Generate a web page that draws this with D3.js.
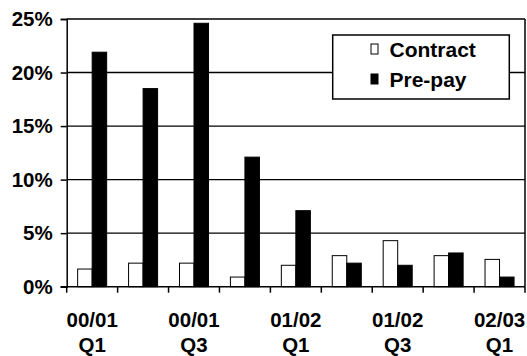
<!DOCTYPE html>
<html><head><meta charset="utf-8">
<script src="https://cdn.jsdelivr.net/npm/d3@7"></script>
<style>
html,body{margin:0;padding:0;background:#fff;}
text{font-family:"Liberation Sans",Arial,sans-serif;font-weight:bold;fill:#000;}
</style></head>
<body><svg id="c" width="527" height="356"></svg>
<script>
const categories = ["00/01 Q1","00/01 Q2","00/01 Q3","00/01 Q4","01/02 Q1","01/02 Q2","01/02 Q3","01/02 Q4","02/03 Q1"];
const tickLabels = [["00/01","Q1"],null,["00/01","Q3"],null,["01/02","Q1"],null,["01/02","Q3"],null,["02/03","Q1"]];
const seriesNames = ["Contract","Pre-pay"];
const contract = [1.65, 2.2, 2.2, 0.9, 2.0, 2.9, 4.3, 2.9, 2.55];
const prepay = [21.9, 18.5, 24.6, 12.1, 7.1, 2.2, 2.0, 3.15, 0.9];
const yTicks = [0,5,10,15,20,25];

const svg = d3.select("#c");
const L = 66.7, R = 525, T = 19, B = 286.7;
const x0 = d3.scaleBand().domain(categories).range([L,R]).padding(0);
const bw = x0.bandwidth();
const x1 = d3.scaleBand().domain(seriesNames).range([bw*0.215, bw*0.785]).padding(0);
const y = d3.scaleLinear().domain([0,25]).range([B,T]);

// gridlines
svg.append("g").selectAll("line").data(yTicks.filter(d=>d>0)).join("line")
  .attr("x1",L).attr("x2",R).attr("y1",d=>y(d)).attr("y2",d=>y(d))
  .attr("stroke","#000").attr("stroke-width",1.4);

// bars
const fills = {"Contract":"#fff","Pre-pay":"#000"};
const data = categories.map((c,i)=>({c, vals:[{s:"Contract",v:contract[i]},{s:"Pre-pay",v:prepay[i]}]}));
const g = svg.append("g").selectAll("g").data(data).join("g")
  .attr("transform",d=>`translate(${x0(d.c)},0)`);
g.selectAll("rect").data(d=>d.vals).join("rect")
  .attr("x",d=>x1(d.s)).attr("width",x1.bandwidth())
  .attr("y",d=>y(d.v)).attr("height",d=>B-y(d.v))
  .attr("fill",d=>fills[d.s]).attr("stroke","#000").attr("stroke-width",1);

// right border
svg.append("line").attr("x1",R).attr("x2",R).attr("y1",T).attr("y2",B)
  .attr("stroke","#000").attr("stroke-width",1.5);

// y axis
const yAxis = d3.axisLeft(y).tickValues(yTicks).tickFormat(d=>d+"%").tickSize(6).tickPadding(8);
const ya = svg.append("g").attr("transform",`translate(${L},0)`).call(yAxis);
ya.select(".domain").attr("stroke","#000").attr("stroke-width",1.5);
ya.selectAll(".tick line").attr("stroke","#000").attr("stroke-width",1.5);
ya.selectAll(".tick text").attr("font-size","20.5px").style("font-family","'Liberation Sans',Arial,sans-serif").style("font-weight","bold").attr("fill","#000");

// x axis
const xEdges = categories.map(c=>x0(c)).concat([R]);
const xa = svg.append("g");
xa.append("line").attr("x1",L-6).attr("x2",R).attr("y1",B).attr("y2",B).attr("stroke","#000").attr("stroke-width",1.5);
xa.selectAll("line.tk").data(xEdges).join("line").attr("class","tk")
  .attr("x1",d=>d).attr("x2",d=>d).attr("y1",B).attr("y2",B+6)
  .attr("stroke","#000").attr("stroke-width",1.5);
const lab = xa.selectAll("text").data(categories.map((c,i)=>({c,t:tickLabels[i]})).filter(d=>d.t)).join("text")
  .attr("text-anchor","middle").attr("font-size","20.5px")
  .attr("transform",d=>`translate(${x0(d.c)+bw/2},0)`);
lab.append("tspan").attr("x",0).attr("y",326.5).text(d=>d.t[0]);
lab.append("tspan").attr("x",0).attr("y",352).text(d=>d.t[1]);

// legend
const lg = svg.append("g");
lg.append("rect").attr("x",332.7).attr("y",35).attr("width",176.6).attr("height",64)
  .attr("fill","#fff").attr("stroke","#000").attr("stroke-width",1.5);
const items = lg.selectAll("g").data(seriesNames).join("g")
  .attr("transform",(d,i)=>`translate(371,${44+i*30})`);
items.append("rect").attr("x",0).attr("y",0).attr("width",7).attr("height",10)
  .attr("fill",d=>fills[d]).attr("stroke","#000").attr("stroke-width",1);
items.append("text").attr("x",18.5).attr("y",12.5).attr("font-size","21px").text(d=>d);
</script></body></html>
